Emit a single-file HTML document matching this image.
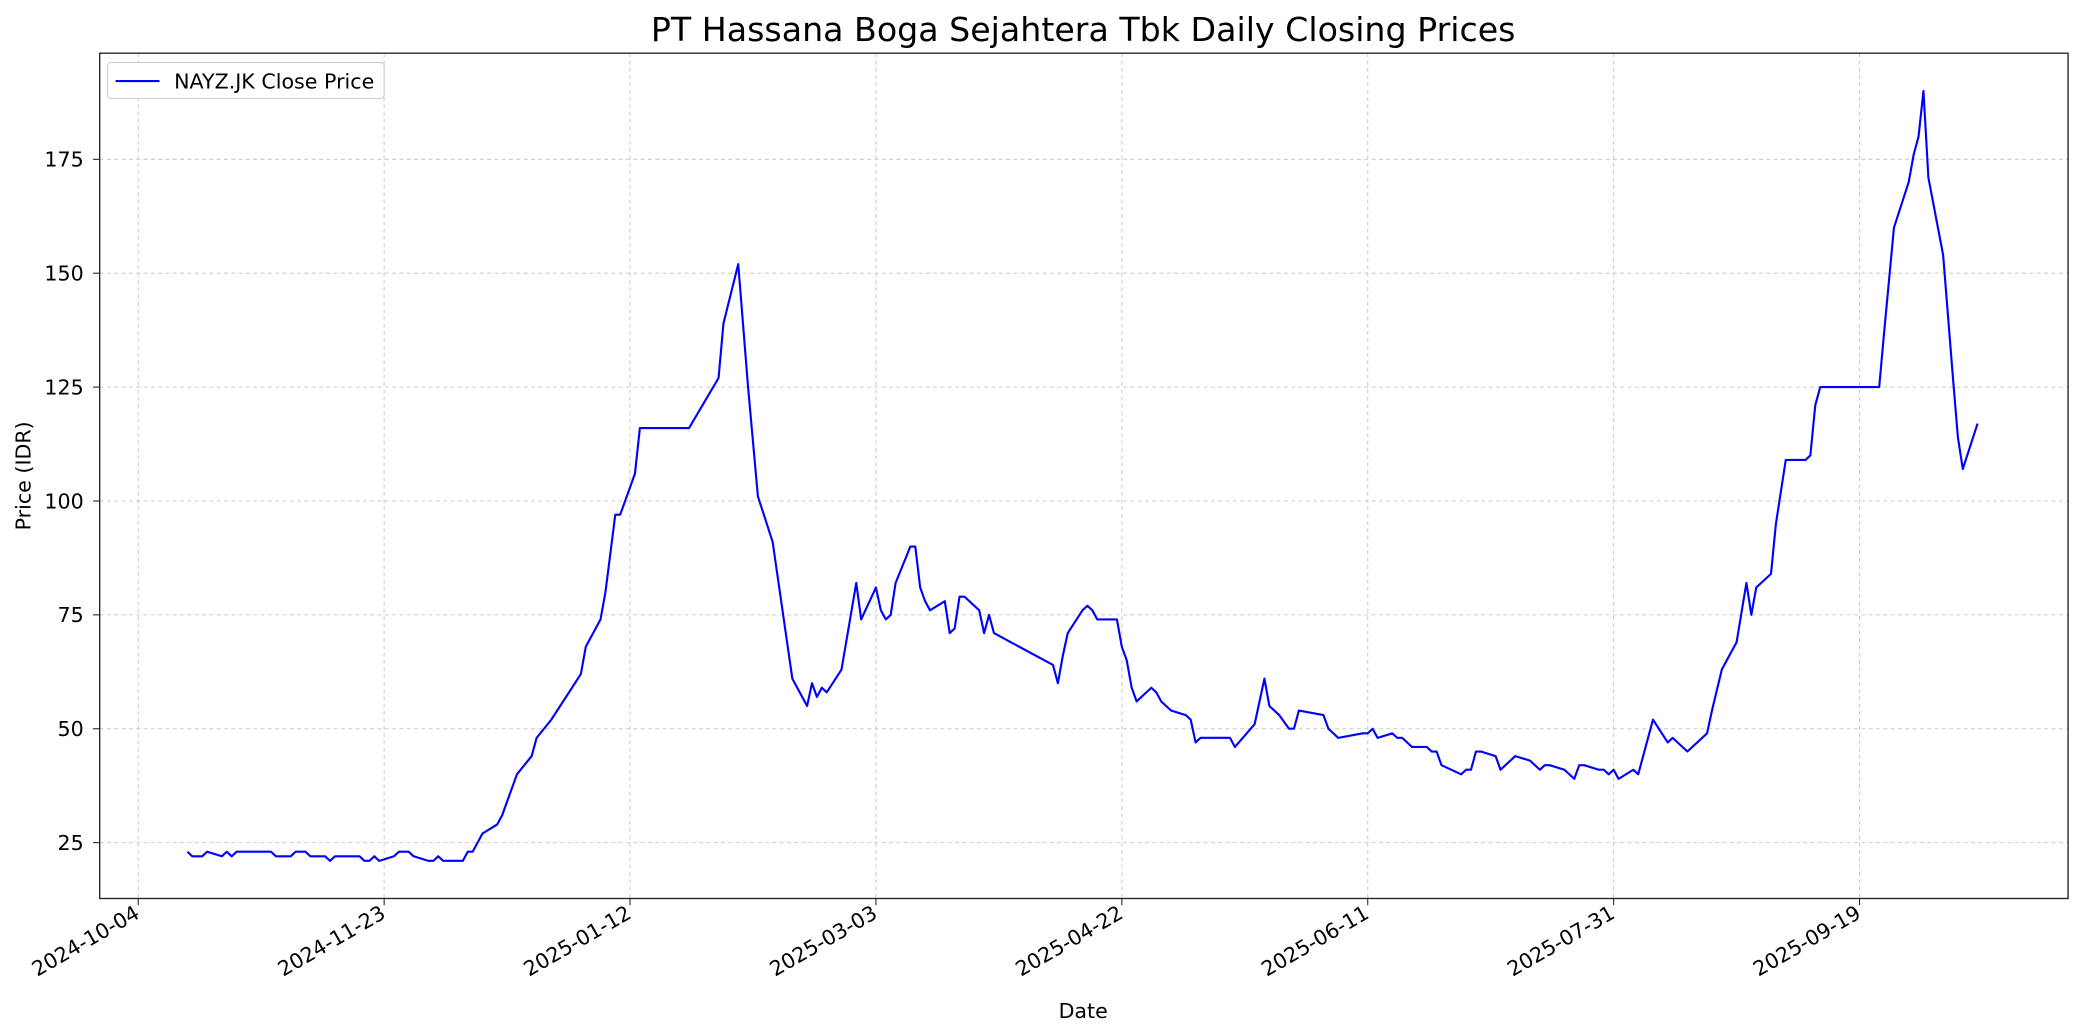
<!DOCTYPE html>
<html><head><meta charset="utf-8"><style>html,body{margin:0;padding:0;background:#fff}svg{display:block}text{font-family:"DejaVu Sans","Liberation Sans",sans-serif;fill:#000}</style></head>
<body>
<svg id="chart" width="2084" height="1035" viewBox="0 0 1568 778.7" xmlns="http://www.w3.org/2000/svg">
<text x="815" y="31" font-size="25" text-anchor="middle">PT Hassana Boga Sejahtera Tbk Daily Closing Prices</text>
<g id="grid"></g>
<g id="line"></g>
<rect x="75" y="40" width="1481" height="636" fill="none" stroke="#222" stroke-width="1"/>
<g id="axes"></g>
<text x="815" y="766" font-size="15.5" text-anchor="middle">Date</text>
<text transform="translate(23,358) rotate(-90)" font-size="15.5" text-anchor="middle">Price (IDR)</text>
<g>
<rect x="81" y="47" width="208" height="27" rx="2.5" fill="#fff" stroke="#ccc" stroke-width="0.8"/>
<line x1="87" y1="61" x2="120" y2="61" stroke="#0000ff" stroke-width="1.6"/>
<text x="131" y="66.5" font-size="15.5">NAYZ.JK Close Price</text>
</g>
</svg>
<script>
const startDate = "2024-10-04";
const dayOffsets = [10,11,13,14,17,18,19,20,27,28,31,32,34,35,38,39,40,45,46,47,48,49,52,53,55,56,59,60,61,62,66,67,68,70,73,74,77,80,81,84,90,91,94,95,97,98,101,102,112,118,119,122,124,126,129,131,133,136,137,138,139,140,143,146,147,150,151,152,153,154,157,158,159,160,161,164,165,166,167,168,171,172,173,174,186,187,188,189,192,193,194,195,199,200,201,202,203,206,207,208,210,213,214,215,216,222,223,227,229,230,232,234,235,236,241,242,244,249,250,251,252,255,256,257,259,262,263,264,265,269,270,271,272,273,276,277,280,283,285,286,287,290,292,293,294,297,298,299,300,301,304,305,308,311,312,315,319,320,322,325,327,328,329,332,333,335,339,340,341,342,354,355,357,360,361,362,363,364,367,369,370,371,374];
const closePrices = [23,22,22,23,22,23,22,23,23,22,22,23,23,22,22,21,22,22,21,21,22,21,22,23,23,22,21,21,22,21,21,23,23,27,29,31,40,44,48,52,62,68,74,80,97,97,106,116,116,127,139,152,125,101,91,76,61,55,60,57,59,58,63,82,74,81,76,74,75,82,90,90,81,78,76,78,71,72,79,79,76,71,75,71,64,60,66,71,76,77,76,74,74,68,65,59,56,59,58,56,54,53,52,47,48,48,46,51,61,55,53,50,50,54,53,50,48,49,49,50,48,49,48,48,46,46,45,45,42,40,41,41,45,45,44,41,44,43,41,42,42,41,39,42,42,41,41,40,41,39,41,40,52,47,48,45,49,54,63,69,82,75,81,84,95,109,109,110,121,125,125,137,160,170,176,180,190,171,154,127,114,107,117];
const xTickDays = [0,50,100,150,200,250,300,350];
const xTickLabels = ["2024-10-04","2024-11-23","2025-01-12","2025-03-03","2025-04-22","2025-06-11","2025-07-31","2025-09-19"];
const yTickValues = [25,50,75,100,125,150,175];

const NS="http://www.w3.org/2000/svg";
const L=75,R=1556,T=40,B=676;
const xMin=-7.84,xMax=392.4,yMin=12.74,yMax=198.3;
function xs(d){return L+(d-xMin)/(xMax-xMin)*(R-L);}
function ys(v){return B-(v-yMin)/(yMax-yMin)*(B-T);}
function mk(tag,attrs,parent){const e=document.createElementNS(NS,tag);for(const k in attrs)e.setAttribute(k,attrs[k]);parent.appendChild(e);return e;}
const grid=document.getElementById('grid'),axes=document.getElementById('axes'),lineG=document.getElementById('line');
xTickDays.forEach((d,i)=>{
  const x=xs(d);
  const g=mk('line',{x1:x,y1:T,x2:x,y2:B,stroke:'#cccccc','stroke-width':0.8,'stroke-dasharray':'3,2.5'},grid);
  
  
  const t=mk('line',{x1:x,y1:B,x2:x,y2:B+5,stroke:'#222','stroke-width':0.8},axes);
  
  
  const lb=mk('text',{transform:`translate(${x+2},${B+14}) rotate(-30)`,'font-size':15.5,'text-anchor':'end'},axes);
  lb.textContent=xTickLabels[i];
  
  
});
yTickValues.forEach(v=>{
  const y=ys(v);
  const g=mk('line',{x1:L,y1:y,x2:R,y2:y,stroke:'#cccccc','stroke-width':0.8,'stroke-dasharray':'3,2.5'},grid);
  
  
  const t=mk('line',{x1:L-5,y1:y,x2:L,y2:y,stroke:'#222','stroke-width':0.8},axes);
  
  
  const lb=mk('text',{x:L-12,y:y+5.5,'font-size':15.5,'text-anchor':'end'},axes);
  lb.textContent=String(v);
  
  
});
const pts=dayOffsets.map((d,i)=>xs(d).toFixed(2)+','+ys(closePrices[i]).toFixed(2)).join(' ');
const pl=mk('polyline',{points:pts,fill:'none',stroke:'#0000ff','stroke-width':1.6,'stroke-linejoin':'round'},lineG);


</script>
</body></html>
